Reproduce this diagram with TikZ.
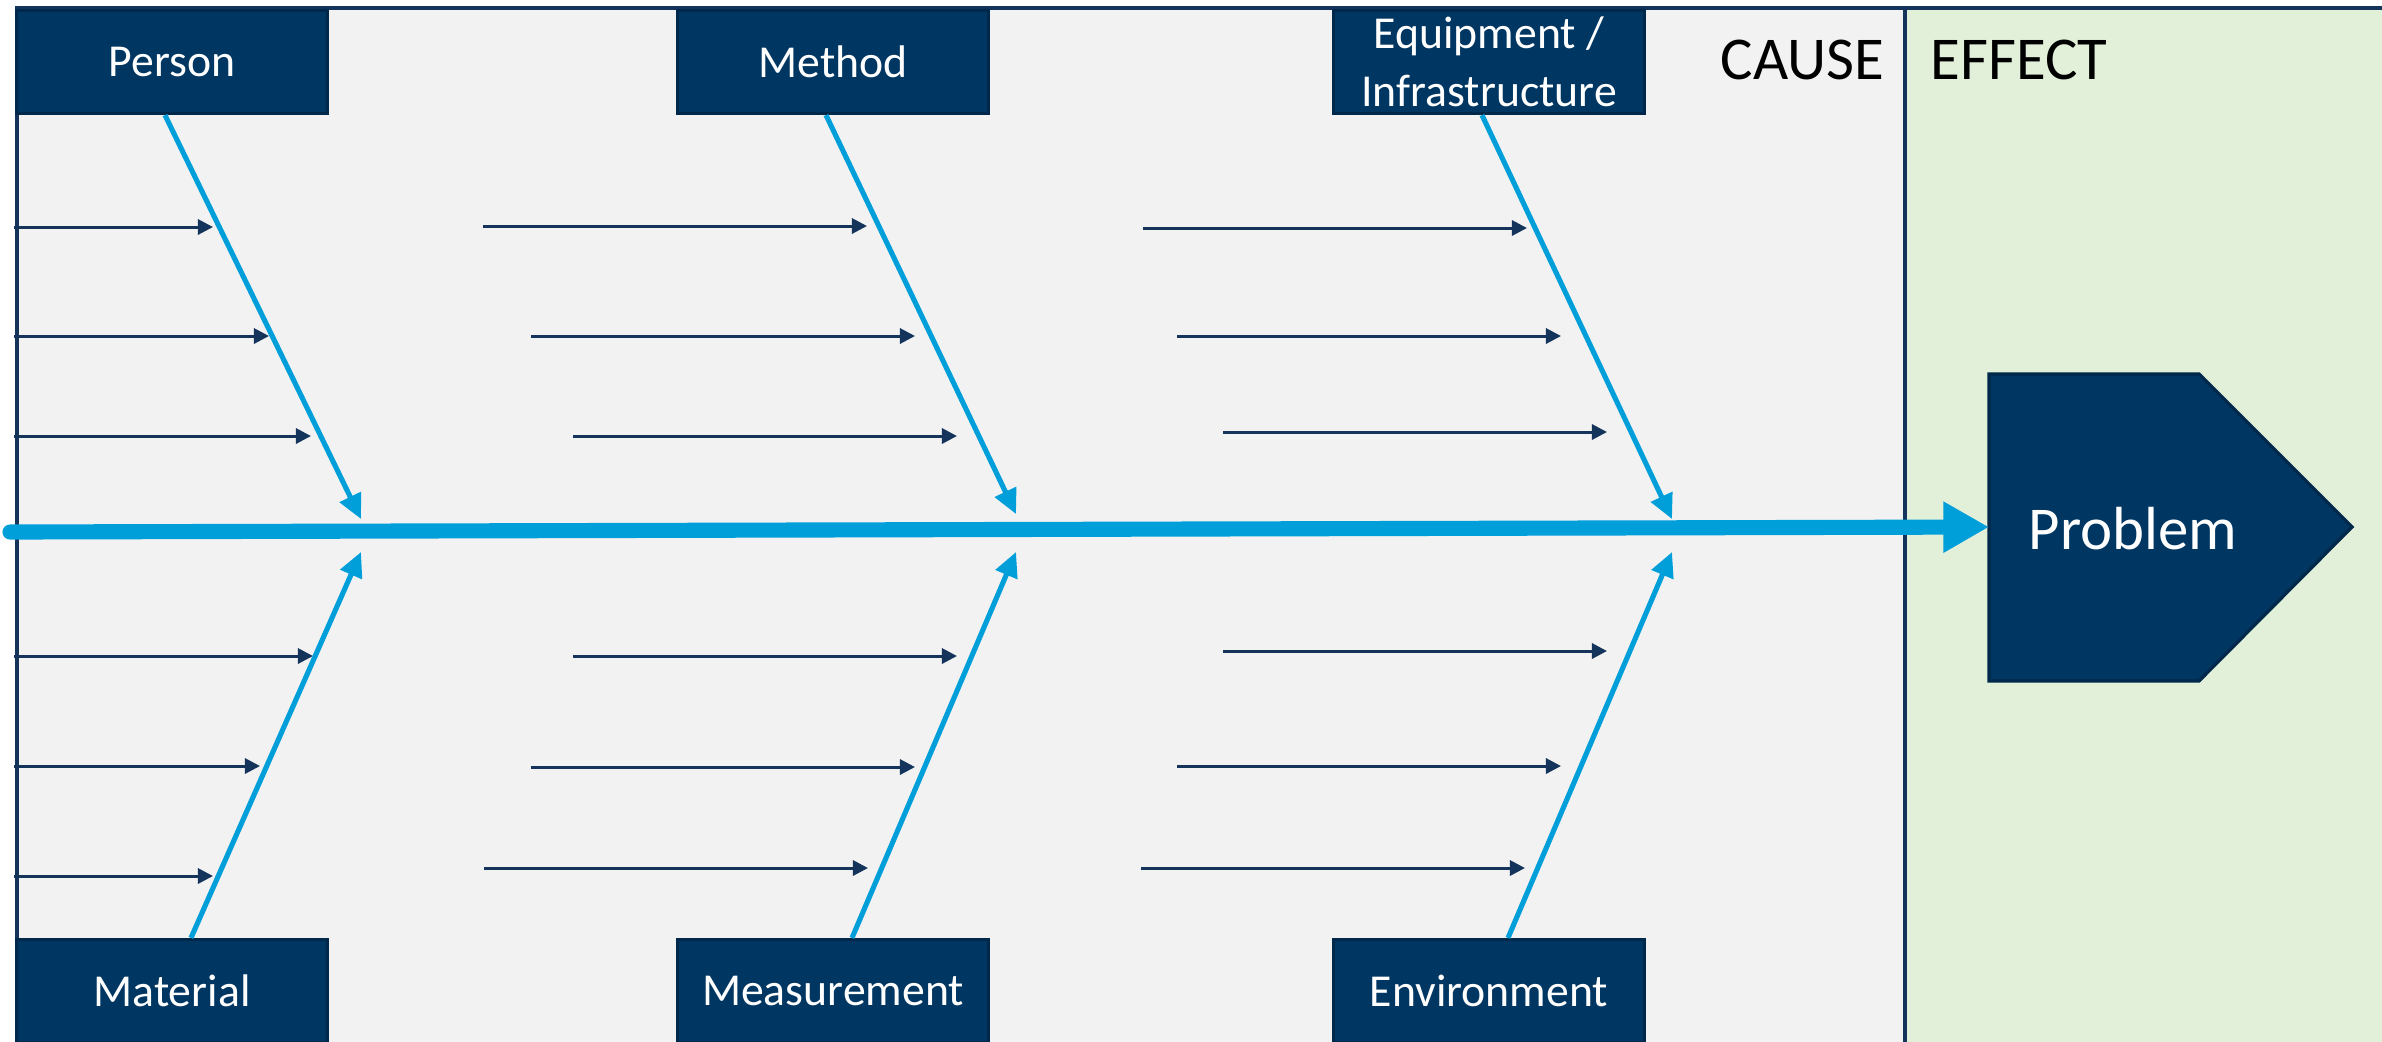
\documentclass[tikz,border=0pt]{standalone}
\usepackage{fontspec}
\setmainfont{Carlito}
\usetikzlibrary{arrows.meta,calc}

\definecolor{navy}{RGB}{0,54,98}
\definecolor{navyline}{RGB}{0,40,74}
\definecolor{bonecol}{RGB}{0,159,218}
\definecolor{subcol}{RGB}{20,52,92}
\definecolor{causebg}{RGB}{242,242,242}
\definecolor{effectbg}{RGB}{226,240,217}

\begin{document}
\begin{tikzpicture}[x=0.01cm, y=-0.01cm]
    \tikzstyle{catbox}=[minimum width=3.11cm, minimum height=1.03cm, inner sep=0pt,
				% The border:
				draw=navyline, line width=0.9pt,
				% The filling:
				fill=navy, text=white, align=center,
				font=\fontsize{13}{16.5}\selectfont
					]
    \tikzstyle{bone}=[draw=bonecol, line width=1.45pt, -{Triangle[length=7pt,width=6.5pt]}]
    \tikzstyle{sub}=[draw=subcol, line width=0.85pt, -{Triangle[length=4.3pt,width=4.3pt]}]
    \tikzstyle{spine}=[draw=bonecol, line width=4.3pt, line cap=round, -{Triangle[length=13pt,width=13.7pt]}]
    \tikzstyle{frame}=[draw=subcol, line width=1.15pt]
    \tikzstyle{head}=[font=\fontsize{17.3}{20}\selectfont, anchor=base west, inner sep=0pt]

    \useasboundingbox (0,0) rectangle (2382,1041);

    % cause / effect areas
    \fill[causebg] (17,8) rectangle (1905,1050);
    \fill[effectbg] (1905,8) rectangle (2390,1050);
    \draw[frame] (17,1050) -- (17,8) -- (2390,8);
    \draw[frame] (1905,8) -- (1905,1050);
    \coordinate (lft) at (14,0);

    \node[head] (cause) at (1720,79) {CAUSE};
    \node[head] (effect) at (1930,79) {EFFECT};

    % the categories
    \node[catbox] (person) at (172,62) {Person};
    \node[catbox] (method) at (833,62) {Method};
    \node[catbox] (equip) at (1489,62) {Equipment /\\Infrastructure};
    \node[catbox] (material) at (172,991) {Material};
    \node[catbox] (measure) at (833,991) {Measurement};
    \node[catbox] (environ) at (1489,991) {Environment};

    % where the bones meet the spine
    \coordinate (pT) at (361,519);
    \coordinate (mT) at (1016,514);
    \coordinate (eT) at (1672,519);
    \coordinate (maT) at (361,552);
    \coordinate (meT) at (1016,552);
    \coordinate (enT) at (1672,552);

    \foreach \n in {person,method,equip}
        \coordinate (\n-s) at ($(\n.south)+(-7,0)$);
    \foreach \n in {material,measure,environ}
        \coordinate (\n-s) at ($(\n.north)+(19,0)$);

    % sub causes, first column starts at the frame
    \foreach \y/\x in {227/213, 336/269, 436/311, 656/313, 766/260, 876/213} {
        \coordinate (e) at (\x,\y);
        \draw[sub] (e -| lft) -- (e);
    }
    \foreach \y/\x in {226/867, 336/915, 436/957, 656/957, 767/915, 868/868,
                       228/1527, 336/1561, 432/1607, 651/1607, 766/1561, 868/1525} {
        \coordinate (e) at (\x,\y);
        \draw[sub] ($(e)+(-384,0)$) -- (e);
    }

    % bones
    \foreach \n/\tip in {person/pT, method/mT, equip/eT, material/maT, measure/meT, environ/enT}
        \draw[bone] (\n-s) -- (\tip);

    % effect
    \fill[navy, draw=navyline, line width=0.9pt] (1989,374) -- (2199,374) -- (2352,527)
        -- (2199,681) -- (1989,681) -- cycle;
    \node[font=\fontsize{17.3}{20}\selectfont, text=white, anchor=base, inner sep=0pt]
        (problem) at (2133,549) {Problem};

    % spine
    \coordinate (tail) at (10,532);
    \coordinate (probW) at (1989,527);
    \draw[spine] (tail) -- (probW);
\end{tikzpicture}
\end{document}
